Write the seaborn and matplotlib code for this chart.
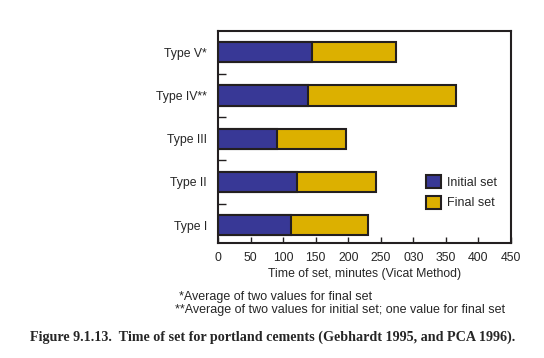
import matplotlib
matplotlib.use("Agg")
import matplotlib.pyplot as plt
import matplotlib.patches as mpatches
import pandas as pd
import seaborn as sns

# Data (minutes, Vicat method)
cement_types = ["Type V*", "Type IV**", "Type III", "Type II", "Type I"]
initial_set = [144, 138, 90, 122, 112]
final_set = [273, 365, 196, 242, 230]
x_ticks = [0, 50, 100, 150, 200, 250, 300, 350, 400, 450]
x_tick_labels = ["0", "50", "100", "150", "200", "250", "030", "350", "400", "450"]

BLUE = "#383896"
GOLD = "#dcb000"
EDGE = "#231f20"
FS = 8.8

df = pd.DataFrame({"type": cement_types, "initial": initial_set, "final": final_set})

sns.set_style("white")
plt.rcParams["font.family"] = ["Liberation Sans", "DejaVu Sans"]

fig = plt.figure(figsize=(5.44, 3.58), dpi=100)
ax = fig.add_axes([0.4007, 0.3204, 0.5386, 0.593])

# final set drawn as the full bar, initial set on top of it
sns.barplot(data=df, x="final", y="type", order=cement_types, color=GOLD,
            edgecolor=EDGE, linewidth=1.5, width=0.47, saturation=1, ax=ax)
sns.barplot(data=df, x="initial", y="type", order=cement_types, color=BLUE,
            edgecolor=EDGE, linewidth=1.5, width=0.47, saturation=1, ax=ax)

ax.set_xlim(0, 450)
ax.set_ylim(4.42, -0.49)
ax.set_xticks(x_ticks)
ax.set_xticklabels(x_tick_labels, fontsize=FS)
ax.set_yticks(range(len(cement_types)))
ax.set_yticklabels(cement_types, fontsize=FS)
ax.set_yticks([0.5, 1.5, 2.5, 3.5], minor=True)
ax.tick_params(axis="y", which="major", length=0, pad=8)
ax.tick_params(axis="y", which="minor", direction="in", length=5.5, width=1, color=EDGE, left=True)
ax.tick_params(axis="x", direction="in", length=4.5, width=1, color=EDGE, bottom=True, pad=6)
ax.set_xlabel("Time of set, minutes (Vicat Method)", fontsize=FS, labelpad=3)
ax.set_ylabel("")
for sp in ax.spines.values():
    sp.set_linewidth(1.5)
    sp.set_color(EDGE)

handles = [mpatches.Patch(facecolor=BLUE, edgecolor=EDGE, linewidth=1.5, label="Initial set"),
           mpatches.Patch(facecolor=GOLD, edgecolor=EDGE, linewidth=1.5, label="Final set")]
ax.legend(handles=handles, loc="upper left", bbox_to_anchor=(0.69, 0.35), frameon=False,
          fontsize=9, handlelength=1.15, handleheight=1.2, labelspacing=0.55,
          handletextpad=0.5, borderpad=0)

fig.text(179 / 544, 1 - 297 / 358, "*Average of two values for final set", fontsize=9, va="center")
fig.text(175 / 544, 1 - 309.5 / 358, "**Average of two values for initial set; one value for final set",
         fontsize=9, va="center")
fig.text(30 / 544, 1 - 337 / 358,
         "Figure 9.1.13.  Time of set for portland cements (Gebhardt 1995, and PCA 1996).",
         fontsize=10.2, fontweight="bold", family=["Liberation Serif", "DejaVu Serif"], va="center")

fig.savefig("out.png", dpi=100)
